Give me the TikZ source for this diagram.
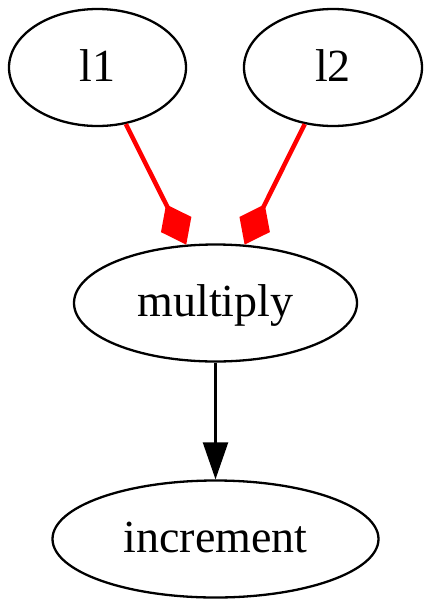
\documentclass[tikz,border=0pt]{standalone}
\usepackage{fontspec}
\setmainfont{Liberation Serif}
\usetikzlibrary{shapes.geometric,arrows.meta}

\begin{document}
\begin{tikzpicture}[x=1pt,y=-1pt,
    op/.style={draw,ellipse,line width=2.3pt,inner sep=0pt,minimum height=117pt,
      text height=37pt,text depth=10pt,font=\fontsize{46}{50}\selectfont},
    redge/.style={line width=4.5pt,red,-{Diamond[length=45pt,width=34pt]}},
    bedge/.style={line width=2.3pt,-{Triangle[length=37pt,width=25pt]}}]
    \useasboundingbox (0,0) rectangle (432,611);

    % Draw the nodes
    \node[op,minimum width=177pt] (l1) at (97.5,67.5) {l1};
    \node[op,minimum width=178pt] (l2) at (333,67.5) {l2};
    \node[op,minimum width=283pt] (multiply) at (215.5,303) {multiply};
    \node[op,minimum width=326pt] (increment) at (215.5,539) {increment};

    % Draw the edges
    \draw[redge] (l1) -- (multiply);
    \draw[redge] (l2) -- (multiply);
    \draw[bedge] (multiply) -- (increment);
\end{tikzpicture}
\end{document}
